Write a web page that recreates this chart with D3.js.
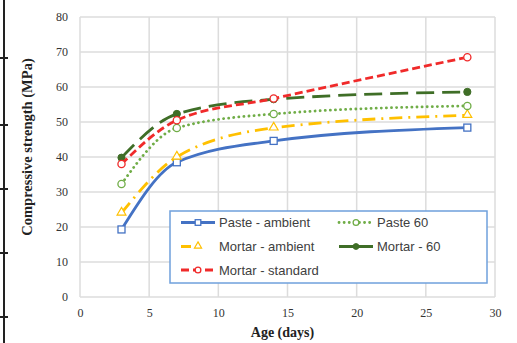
<!DOCTYPE html>
<html>
<head>
<meta charset="utf-8">
<script src="https://cdn.jsdelivr.net/npm/d3@7"></script>
<style>
body{margin:0;background:#fff;}
svg{display:block;}
</style>
</head>
<body>
<div id="chart-area"></div>
<script>
// data
let ages=[3,7,14,28];
let pasteAmbient=[19.3,38.5,44.6,48.4];
let mortarAmbient=[24,40,48.3,51.9];
let mortarStandard=[38,50.5,56.7,68.5];
let paste60=[32.3,48.3,52.3,54.6];
let mortar60=[39.8,52.3,56.5,58.6];
let xTicks=[0,5,10,15,20,25,30];
let yTicks=[0,10,20,30,40,50,60,70,80];

let W=517,H=343;
let margin={top:17,right:22,left:80,bottom:46};
let width=W-margin.left-margin.right;
let height=H-margin.top-margin.bottom;

let svg=d3.select("#chart-area").append('svg')
	.attr('width',W)
	.attr('height',H);

// table border artefact on the left edge
svg.append('line')
	.attr('x1',4).attr('x2',4).attr('y1',0).attr('y2',H)
	.attr('stroke','#222').attr('stroke-width',2);
[58,125,189,253,317].forEach(function(yy){
	svg.append('line')
		.attr('x1',0).attr('x2',8).attr('y1',yy).attr('y2',yy)
		.attr('stroke','#222').attr('stroke-width',2);
});

let g=svg.append('g')
	.attr("transform","translate("+margin.left+","+margin.top+")");

//---------SCALES--------------
let x=d3.scaleLinear().domain([0,30]).range([0,width]);
let y=d3.scaleLinear().domain([0,80]).range([height,0]);

//---------GRID----------------
g.selectAll('.vgrid').data(xTicks).enter().append('line')
	.attr('x1',d=>x(d)).attr('x2',d=>x(d))
	.attr('y1',0).attr('y2',height)
	.attr('stroke','#dcdcdc').attr('stroke-width',1.5);
g.selectAll('.hgrid').data(yTicks).enter().append('line')
	.attr('x1',0).attr('x2',width)
	.attr('y1',d=>y(d)).attr('y2',d=>y(d))
	.attr('stroke','#dcdcdc').attr('stroke-width',1.5);

//-------AXES------------------
let xAxis=d3.axisBottom(x).tickValues(xTicks).tickSize(0).tickPadding(11);
let xAxisGroup=g.append('g')
	.attr("transform","translate(0,"+height+")")
	.call(xAxis);
let yAxis=d3.axisLeft(y).tickValues(yTicks).tickSize(0).tickPadding(12);
let yAxisGroup=g.append('g').call(yAxis);
[xAxisGroup,yAxisGroup].forEach(function(ax){
	ax.select('.domain').remove();
	ax.selectAll('text')
		.attr('font-family','"Liberation Serif","Times New Roman",serif')
		.attr('font-size','12px')
		.attr('fill','#333');
});

//------LABELS----------------
g.append('text')
	.attr('x',width/2-5)
	.attr('y',height+40)
	.attr('text-anchor','middle')
	.attr('font-family','"Liberation Serif","Times New Roman",serif')
	.attr('font-weight','bold')
	.attr('font-size','14px')
	.attr('fill','#222')
	.text('Age (days)');

g.append('text')
	.attr('transform','rotate(-90)')
	.attr('x',-(147-margin.top))
	.attr('y',-48)
	.attr('text-anchor','middle')
	.attr('font-family','"Liberation Serif","Times New Roman",serif')
	.attr('font-weight','bold')
	.attr('font-size','14.5px')
	.attr('fill','#222')
	.text('Compressive strength (MPa)');

//--------SERIES--------------
let series=[
	{name:'Paste - ambient',values:pasteAmbient,color:'#4472c4',dash:null,cap:'butt',marker:'square',fill:'#fff'},
	{name:'Paste 60',values:paste60,color:'#70ad47',dash:'0.1,5',cap:'round',marker:'circle',fill:'#fff'},
	{name:'Mortar - ambient',values:mortarAmbient,color:'#ffc000',dash:'13,6,2,6',cap:'butt',marker:'triangle',fill:'#fff'},
	{name:'Mortar - 60',values:mortar60,color:'#3f6e27',dash:'18,8',cap:'butt',marker:'dot',fill:'#3f6e27'},
	{name:'Mortar - standard',values:mortarStandard,color:'#f02a2a',dash:'8,4',cap:'butt',marker:'circle',fill:'#fff'}
];

let line=d3.line()
	.x(d=>x(d[0]))
	.y(d=>y(d[1]))
	.curve(d3.curveMonotoneX);

function drawMarker(sel,s,cx,cy,k){
	k=k||1;
	if(s.marker==='square'){
		sel.append('rect')
			.attr('x',cx-3.5*k).attr('y',cy-3.5*k).attr('width',7*k).attr('height',7*k)
			.attr('fill',s.fill).attr('stroke',s.color).attr('stroke-width',1.3);
	}else if(s.marker==='triangle'){
		sel.append('path')
			.attr('d',d3.symbol().type(d3.symbolTriangle).size(34*k*k)())
			.attr('transform','translate('+cx+','+(cy-0.5)+')')
			.attr('fill',s.fill).attr('stroke',s.color).attr('stroke-width',1.2);
	}else if(s.marker==='dot'){
		sel.append('circle')
			.attr('cx',cx).attr('cy',cy).attr('r',3.6*k)
			.attr('fill',s.fill).attr('stroke',s.color).attr('stroke-width',1);
	}else{
		sel.append('circle')
			.attr('cx',cx).attr('cy',cy).attr('r',3.6*k)
			.attr('fill',s.fill).attr('stroke',s.color).attr('stroke-width',1.3);
	}
}

// draw order so that red sits on top like the picture
let order=[0,2,1,3,4];
order.forEach(function(i){
	let s=series[i];
	let pts=ages.map((a,j)=>[a,s.values[j]]);
	g.append('path')
		.datum(pts)
		.attr('d',line)
		.attr('fill','none')
		.attr('stroke',s.color)
		.attr('stroke-width',2.8)
		.attr('stroke-linecap',s.cap)
		.attr('stroke-dasharray',s.dash);
	let mg=g.append('g');
	pts.forEach(function(p){ drawMarker(mg,s,x(p[0]),y(p[1])); });
});

//--------LEGEND--------------
let legend=svg.append('g');
legend.append('rect')
	.attr('x',170).attr('y',211).attr('width',317).attr('height',72)
	.attr('fill','#fff').attr('stroke','#6fa0dc').attr('stroke-width',1.5);

let legendPos=[
	{s:0,x:181,y:222.5},
	{s:1,x:339,y:222.5},
	{s:2,x:181,y:246.5},
	{s:3,x:339,y:246.5},
	{s:4,x:181,y:270}
];
legendPos.forEach(function(p){
	let s=series[p.s];
	let row=legend.append('g');
	row.append('line')
		.attr('x1',p.x).attr('x2',p.x+34)
		.attr('y1',p.y).attr('y2',p.y)
		.attr('stroke',s.color).attr('stroke-width',2.8)
		.attr('stroke-linecap',s.cap)
		.attr('stroke-dasharray',s.dash==='18,8'?null:(s.dash==='13,6,2,6'?'10,5,2,20':s.dash));
	drawMarker(row,s,p.x+17,p.y,0.8);
	row.append('text')
		.attr('x',p.x+38)
		.attr('y',p.y+4.5)
		.attr('font-family','"Liberation Sans",Arial,sans-serif')
		.attr('font-size','13px')
		.attr('fill','#404040')
		.text(s.name);
});
</script>
</body>
</html>
